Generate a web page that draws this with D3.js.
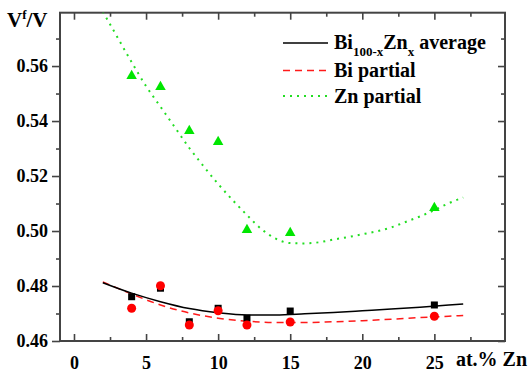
<!DOCTYPE html>
<html lang="en">
<head>
    <meta charset="UTF-8">
    <title>Vf/V vs at.% Zn</title>
    <style>
        body { margin: 0; background: #fff; }
        svg { display: block; }
    </style>
</head>
<body>
    <script src="https://d3js.org/d3.v7.min.js"></script>
    <script>
        const W = 530
        const H = 372
        const serif = "'Liberation Serif', 'Times New Roman', Times, serif"

        // measured points
        const zn = [4, 6, 8, 10, 12, 15, 25]
        const avgVals = [0.4761, 0.4792, 0.4670, 0.4719, 0.4683, 0.4709, 0.4731]
        const biVals = [0.4719, 0.4801, 0.4658, 0.4710, 0.4658, 0.4669, 0.4690]
        const znVals = [0.5564, 0.5524, 0.5364, 0.5324, 0.5004, 0.4993, 0.5084]

        // fitted curves
        const fitX = [2, 4, 6, 8, 10, 12, 14, 16, 18, 20, 22, 24, 26, 27]
        const avgFit = [0.4812, 0.4774, 0.4743, 0.4718, 0.4703, 0.4695, 0.4695, 0.4699, 0.4704, 0.4710, 0.4716, 0.4723, 0.4731, 0.4735]
        const biFit = [0.4815, 0.4771, 0.4731, 0.4702, 0.4683, 0.4672, 0.4667, 0.4667, 0.4670, 0.4674, 0.4679, 0.4685, 0.4690, 0.4693]
        const znFitX = [2, 3, 4, 5, 6, 7, 8, 9, 10, 11, 12, 13, 14, 15, 16, 17, 18, 19, 20, 21, 22, 23, 24, 25, 26, 27]
        const znFit = [0.5798, 0.5706, 0.5614, 0.5527, 0.5452, 0.5377, 0.5302, 0.5235, 0.5171, 0.5113, 0.5058, 0.5007, 0.4972, 0.4956,
            0.4955, 0.4959, 0.4969, 0.4978, 0.4988, 0.4999, 0.5013, 0.5033, 0.5053, 0.5076, 0.5101, 0.5122]

        const xTicks = [0, 5, 10, 15, 20, 25]
        const xMinor = [2.5, 7.5, 12.5, 17.5, 22.5, 27.5]
        const yTicks = [0.46, 0.48, 0.50, 0.52, 0.54, 0.56]
        const yMinor = [0.47, 0.49, 0.51, 0.53, 0.55, 0.57]

        const plotL = 60, plotR = 505, plotT = 12.7, plotB = 341

        const x = d3.scaleLinear().domain([-0.97, 29.9]).range([plotL, plotR])
        const y = d3.scaleLinear().domain([0.46, 0.5794]).range([plotB, plotT])

        const svg = d3.select('body')
            .append('svg')
            .attr('width', W)
            .attr('height', H)
            .style('font-family', serif)

        svg.append('defs').append('clipPath')
            .attr('id', 'plot')
            .append('rect')
            .attr('x', plotL).attr('y', plotT)
            .attr('width', plotR - plotL).attr('height', plotB - plotT)

        const axisColor = '#444'

        function styleAxis(g) {
            g.attr('font-family', null)
            g.select('.domain').remove()
            g.selectAll('line').attr('stroke', axisColor).attr('stroke-width', 1.6)
            g.selectAll('text')
                .attr('font-size', 18)
                .attr('fill', '#000')
                .style('font-family', serif)
                .style('font-weight', 'bold')
        }

        // left axis: outward ticks with labels
        svg.append('g')
            .attr('transform', `translate(${plotL},0)`)
            .call(d3.axisLeft(y).tickValues(yTicks).tickFormat(d3.format('.2f')).tickSizeInner(8).tickSizeOuter(0).tickPadding(4))
            .call(styleAxis)
        svg.append('g')
            .attr('transform', `translate(${plotL},0)`)
            .call(d3.axisLeft(y).tickValues(yMinor).tickFormat('').tickSizeInner(4).tickSizeOuter(0))
            .call(styleAxis)

        // right axis: inward ticks
        svg.append('g')
            .attr('transform', `translate(${plotR},0)`)
            .call(d3.axisLeft(y).tickValues(yTicks).tickFormat('').tickSizeInner(7).tickSizeOuter(0))
            .call(styleAxis)
        svg.append('g')
            .attr('transform', `translate(${plotR},0)`)
            .call(d3.axisLeft(y).tickValues(yMinor).tickFormat('').tickSizeInner(4).tickSizeOuter(0))
            .call(styleAxis)

        // bottom axis: inward ticks, labels below
        svg.append('g')
            .attr('transform', `translate(0,${plotB})`)
            .call(d3.axisTop(x).tickValues(xTicks).tickFormat('').tickSizeInner(7).tickSizeOuter(0))
            .call(styleAxis)
        svg.append('g')
            .attr('transform', `translate(0,${plotB})`)
            .call(d3.axisTop(x).tickValues(xMinor).tickFormat('').tickSizeInner(4).tickSizeOuter(0))
            .call(styleAxis)
        svg.append('g')
            .attr('transform', `translate(0,${plotB})`)
            .call(d3.axisBottom(x).tickValues(xTicks).tickFormat(d3.format('d')).tickSize(0).tickPadding(15))
            .call(styleAxis)

        // top axis: inward ticks
        svg.append('g')
            .attr('transform', `translate(0,${plotT})`)
            .call(d3.axisBottom(x).tickValues(xTicks).tickFormat('').tickSizeInner(7).tickSizeOuter(0))
            .call(styleAxis)
        svg.append('g')
            .attr('transform', `translate(0,${plotT})`)
            .call(d3.axisBottom(x).tickValues(xMinor).tickFormat('').tickSizeInner(4).tickSizeOuter(0))
            .call(styleAxis)

        // frame
        svg.append('rect')
            .attr('x', plotL).attr('y', plotT)
            .attr('width', plotR - plotL).attr('height', plotB - plotT)
            .attr('fill', 'none')
            .attr('stroke', axisColor)
            .attr('stroke-width', 2)

        const line = d3.line()
            .x(d => x(d[0]))
            .y(d => y(d[1]))
            .curve(d3.curveMonotoneX)

        const plot = svg.append('g').attr('clip-path', 'url(#plot)')

        plot.append('path')
            .datum(znFitX.map((v, i) => [v, znFit[i]]))
            .attr('d', line)
            .attr('fill', 'none')
            .attr('stroke', '#22dd22')
            .attr('stroke-width', 2)
            .attr('stroke-dasharray', '2,5')

        plot.append('path')
            .datum(fitX.map((v, i) => [v, biFit[i]]))
            .attr('d', line)
            .attr('fill', 'none')
            .attr('stroke', '#ff1a1a')
            .attr('stroke-width', 1.5)
            .attr('stroke-dasharray', '7,5')

        plot.append('path')
            .datum(fitX.map((v, i) => [v, avgFit[i]]))
            .attr('d', line)
            .attr('fill', 'none')
            .attr('stroke', '#000')
            .attr('stroke-width', 1.5)

        // markers
        const sq = 7
        plot.selectAll('rect.avg')
            .data(zn.map((v, i) => [v, avgVals[i]]))
            .enter()
            .append('rect')
            .attr('class', 'avg')
            .attr('x', d => x(d[0]) - sq / 2)
            .attr('y', d => y(d[1]) - sq / 2)
            .attr('width', sq)
            .attr('height', sq)
            .attr('fill', '#000')

        plot.selectAll('circle.bi')
            .data(zn.map((v, i) => [v, biVals[i]]))
            .enter()
            .append('circle')
            .attr('class', 'bi')
            .attr('cx', d => x(d[0]))
            .attr('cy', d => y(d[1]))
            .attr('r', 4.5)
            .attr('fill', '#ff0000')

        const tri = d3.symbol().type(d3.symbolTriangle).size(48)
        plot.selectAll('path.zn')
            .data(zn.map((v, i) => [v, znVals[i]]))
            .enter()
            .append('path')
            .attr('class', 'zn')
            .attr('transform', d => `translate(${x(d[0])},${y(d[1])})`)
            .attr('d', tri)
            .attr('fill', '#00e600')

        // legend
        const legend = svg.append('g')
            .style('font-family', serif)
            .style('font-weight', 'bold')
        const lx0 = 283, lx1 = 328, tx = 334
        const rows = [
            { y: 43, stroke: '#000', dash: null, width: 1.5 },
            { y: 70.5, stroke: '#ff1a1a', dash: '7,5', width: 1.5 },
            { y: 96, stroke: '#22dd22', dash: '2,5', width: 2 }
        ]
        rows.forEach(r => {
            legend.append('line')
                .attr('x1', lx0).attr('x2', lx1)
                .attr('y1', r.y).attr('y2', r.y)
                .attr('stroke', r.stroke)
                .attr('stroke-width', r.width)
                .attr('stroke-dasharray', r.dash)
        })

        const t1 = legend.append('text')
            .attr('x', tx).attr('y', 49)
            .attr('font-size', 20)
        t1.append('tspan').text('Bi')
        t1.append('tspan').attr('font-size', 13).attr('dy', 7).text('100-x')
        t1.append('tspan').attr('dy', -7).text('Zn')
        t1.append('tspan').attr('font-size', 13).attr('dy', 7).text('x')
        t1.append('tspan').attr('dy', -7).text(' average')

        legend.append('text')
            .attr('x', tx).attr('y', 77)
            .attr('font-size', 20)
            .text('Bi partial')

        legend.append('text')
            .attr('x', tx).attr('y', 102.5)
            .attr('font-size', 20)
            .text('Zn partial')

        // axis titles
        const titles = svg.append('g')
            .style('font-family', serif)
            .style('font-weight', 'bold')
        const yt = titles.append('text')
            .attr('x', 7).attr('y', 27)
            .attr('font-size', 21)
        yt.append('tspan').text('V')
        yt.append('tspan').attr('font-size', 13).attr('dy', -8).text('f')
        yt.append('tspan').attr('dy', 8).text('/V')

        titles.append('text')
            .attr('x', 527).attr('y', 366)
            .attr('text-anchor', 'end')
            .attr('font-size', 20)
            .text('at.% Zn')
    </script>
</body>
</html>
